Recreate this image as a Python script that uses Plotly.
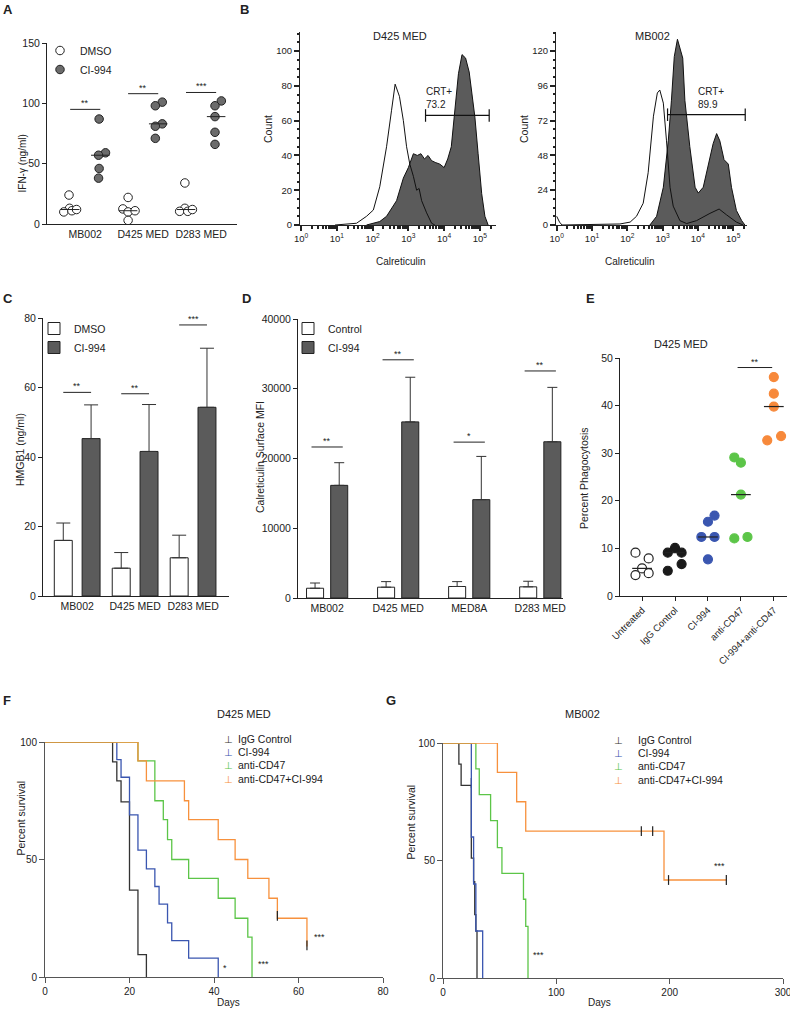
import numpy as np
import plotly.graph_objects as go

W, H = 790, 1017
FONT = "Liberation Sans, Arial, sans-serif"
INK = "#222222"
DARK = "#5b5b5b"

# ---------------- A: IFN-gamma dot plot ----------------
a_groups = ["MB002", "D425 MED", "D283 MED"]
a_dmso = [[24, 13, 10, 11, 12], [22, 12.5, 10, 11, 3], [34, 13, 10.5, 10.5, 12]]
a_ci = [[87, 59, 57, 46, 38], [101, 98, 83, 81, 71], [102, 98, 89, 76, 66]]
a_dmso_jit = [[-0.02, -0.01, -0.11, 0.03, 0.11], [0, -0.09, 0, 0.12, 0], [-0.02, -0.02, -0.11, 0.03, 0.11]]
a_ci_jit = [[-0.02, 0.09, -0.03, -0.02, -0.03], [0.07, -0.05, 0.07, -0.05, -0.05], [0.09, -0.02, -0.02, -0.02, -0.02]]
a_sig = ["**", "**", "***"]
a_sig_y = [95, 108, 109]

# ---------------- B: flow histograms (log10 calreticulin, count) ----------------
b1_ctrl_exp = [0.95, 1.55, 1.83, 2.02, 2.2, 2.39, 2.53, 2.63, 2.75, 2.86, 2.95, 3.04, 3.14, 3.23, 3.3, 3.37, 3.51, 3.65, 3.74]
b1_ctrl_cnt = [0, 1, 5, 8.6, 22, 45, 66, 81, 74, 60, 45, 35, 28, 20, 21, 14, 7, 1, 0]
b1_ci_exp = [1.83, 2.2, 2.39, 2.67, 2.86, 3.0, 3.14, 3.25, 3.35, 3.45, 3.55, 3.65, 3.75, 3.88, 4.0, 4.1, 4.2, 4.3, 4.4, 4.5, 4.6, 4.7, 4.86, 4.95, 5.05, 5.14, 5.23]
b1_ci_cnt = [0, 2, 5, 14, 27, 33, 41, 40, 41, 38, 40, 37, 36, 35, 33, 38, 45, 64, 87, 98, 96, 88, 62, 41, 18, 5, 0]
b1_gate = [3.48, 5.26, 63]
b1_label = "CRT+<br>73.2"

b2_ctrl_exp = [0.0, 0.08, 0.15, 1.79, 2.08, 2.26, 2.45, 2.59, 2.74, 2.85, 2.92, 3.02, 3.11, 3.21, 3.3, 3.49, 3.68, 3.96, 4.34, 4.6, 4.81, 5.09, 5.28]
b2_ctrl_cnt = [6, 2, 0, 0.7, 2, 6, 15, 36, 75, 91, 93, 84, 58, 26, 13, 3, 1, 3, 8, 11, 7, 2, 0]
b2_ci_exp = [2.64, 2.83, 3.02, 3.16, 3.25, 3.33, 3.42, 3.47, 3.57, 3.63, 3.77, 3.92, 4.01, 4.15, 4.29, 4.43, 4.53, 4.62, 4.74, 4.86, 4.95, 5.09, 5.24, 5.33]
b2_ci_cnt = [0, 6, 26, 58, 86, 116, 128, 123, 115, 86, 54, 26, 22, 26, 42, 56, 63, 58, 45, 42, 26, 10, 3, 0]
b2_gate = [3.14, 5.34, 76]
b2_label = "CRT+<br>89.9"

# ---------------- C: HMGB1 bars ----------------
c_groups = ["MB002", "D425 MED", "D283 MED"]
c_dmso = [16, 8, 11]
c_dmso_err = [5, 4.5, 6.5]
c_ci = [45.3, 41.6, 54.3]
c_ci_err = [9.7, 13.5, 17]
c_sig = ["**", "**", "***"]
c_sig_y = [58.6, 58.2, 78]

# ---------------- D: calreticulin MFI bars ----------------
d_groups = ["MB002", "D425 MED", "MED8A", "D283 MED"]
d_ctrl = [1400, 1550, 1650, 1600]
d_ctrl_err = [750, 800, 700, 800]
d_ci = [16150, 25250, 14100, 22400]
d_ci_err = [3250, 6400, 6200, 7800]
d_sig = ["**", "**", "*", "**"]
d_sig_y = [21650, 34150, 22350, 32550]

# ---------------- E: phagocytosis ----------------
e_groups = ["Untreated", "IgG Control", "CI-994", "anti-CD47", "CI-994+anti-CD47"]
e_vals = [[9.1, 7.9, 5.8, 4.4, 4.8], [9.1, 10.1, 9.1, 5.3, 6.7], [15.6, 16.9, 12.4, 12.4, 7.7],
          [29.1, 28.0, 21.3, 12.1, 12.4], [46, 42.5, 39.8, 32.7, 33.6]]
e_jit = [[-0.2, 0.2, 0, -0.2, 0.2], [-0.22, 0, 0.2, -0.22, 0.2], [0, 0.2, -0.2, 0.2, 0],
         [-0.2, 0, 0, -0.2, 0.2], [0, 0, 0, -0.2, 0.22]]
e_colors = ["#ffffff", "#1a1a1a", "#3a56b0", "#5cc548", "#f7893b"]
e_sig_y = 48

# ---------------- F / G: survival ----------------
km_names = ["IgG Control", "CI-994", "anti-CD47", "anti-CD47+CI-994"]
km_colors = ["#333333", "#3a56b0", "#5cc548", "#f7913d"]

f_t = [[0, 16, 17, 18, 20, 22, 24],
       [0, 17, 18, 20, 22, 24, 26, 27, 29, 30, 34, 41],
       [0, 22, 26, 28, 29, 30, 34, 41, 45, 48, 49],
       [0, 22, 24, 33, 34, 41, 45, 48, 53, 55, 62]]
f_s = [[100, 91.5, 83.5, 74.5, 37, 9.5, 0],
       [100, 92.5, 85, 69, 54, 46, 38.5, 31, 23, 15.5, 8, 0],
       [100, 92, 75, 67, 58.5, 50, 42, 33.5, 25, 17, 0],
       [100, 92, 83.5, 75, 67, 58.5, 50, 42, 33.5, 25, 13]]
f_cens_t = [[], [], [], [55, 62]]
f_cens_s = [[], [], [], [26, 13.5]]
f_stars = [("*", 42.5, 4), ("***", 51.7, 5.4), ("***", 65, 17)]

g_t = [[0, 14, 16, 25, 27, 28, 29, 30],
       [0, 25, 27, 29, 35],
       [0, 29, 32, 42, 48, 52, 71, 73, 75],
       [0, 48, 65, 73, 195, 250]]
g_s = [[100, 91, 82, 51, 41, 27, 20, 0],
       [100, 60, 40, 20, 0],
       [100, 89, 78, 67, 55.5, 44.5, 33.5, 22, 0],
       [100, 87.5, 75, 62.5, 41.7, 41.7]]
g_cens_t = [[25], [], [], [175, 185, 199, 250]]
g_cens_s = [[83], [], [], [62.5, 62.5, 41.7, 41.7]]
g_stars = [("***", 84, 10), ("***", 244, 47.5)]


def px_x(a, b):
    return [a / W, b / W]


def px_y(top, bottom):
    return [1 - bottom / H, 1 - top / H]


base = dict(showline=True, linecolor=INK, linewidth=1, ticks="outside", ticklen=4,
            tickwidth=1, tickcolor=INK, showgrid=False, zeroline=False,
            tickfont=dict(size=10, color=INK, family=FONT))

layout = {}


def add_axes(n, xdom, ydom, xr, yr, xkw=None, ykw=None):
    s = "" if n == 1 else str(n)
    xa = dict(base, domain=px_x(*xdom), range=xr, anchor="y" + s)
    ya = dict(base, domain=px_y(*ydom), range=yr, anchor="x" + s)
    xa.update(xkw or {})
    ya.update(ykw or {})
    layout["xaxis" + s] = xa
    layout["yaxis" + s] = ya


fig = go.Figure()
ann = []


def note(text, x, y, size=10, **kw):
    d = dict(text=text, x=x / W, y=1 - y / H, xref="paper", yref="paper", showarrow=False,
             font=dict(size=size, color=INK, family=FONT))
    d.update(kw)
    ann.append(d)


# ---- A ----
add_axes(1, (47, 237), (43, 224), [-0.66, 2.62], [0, 150],
         xkw=dict(tickvals=[0, 1, 2], ticktext=a_groups, ticks="", tickfont=dict(size=10.5, color=INK)),
         ykw=dict(tickvals=[0, 50, 100, 150], tickfont=dict(size=10.5, color=INK)))
side = 0.26
for label, vals, jit, off, fill in [("DMSO", a_dmso, a_dmso_jit, -side, "white"),
                                    ("CI-994", a_ci, a_ci_jit, side, "#6b6b6b")]:
    xs, ys = [], []
    for g in range(3):
        xs += [g + off + j for j in jit[g]]
        ys += vals[g]
    fig.add_trace(go.Scatter(x=xs, y=ys, mode="markers", name=label, legend="legend",
                             marker=dict(size=8.5, color=fill, line=dict(color=INK, width=1)),
                             xaxis="x", yaxis="y"))
    mx, my = [], []
    for g in range(3):
        m = float(np.median(vals[g]))
        mx += [g + off - 0.16, g + off + 0.16, None]
        my += [m, m, None]
    fig.add_trace(go.Scatter(x=mx, y=my, mode="lines", line=dict(color=INK, width=1),
                             showlegend=False, xaxis="x", yaxis="y"))
sx, sy = [], []
for g in range(3):
    sx += [g - side, g + side, None]
    sy += [a_sig_y[g], a_sig_y[g], None]
    ann.append(dict(text=a_sig[g], x=g, y=a_sig_y[g], xref="x", yref="y", showarrow=False,
                    yshift=6, font=dict(size=9, color=INK)))
fig.add_trace(go.Scatter(x=sx, y=sy, mode="lines", line=dict(color=INK, width=1),
                         showlegend=False, xaxis="x", yaxis="y"))

# ---- B ----
dec_ticks = [10 ** k for k in range(6)]
dec_text = ["10<sup>%d</sup>" % k for k in range(6)]
minor_vals = [m * 10 ** k for k in range(6) for m in range(2, 10)]
bx = dict(type="log", tickvals=dec_ticks, ticktext=dec_text, ticklen=5, tickwidth=1.5,
          tickfont=dict(size=9.5, color=INK),
          minor=dict(tickmode="array", tickvals=minor_vals, ticks="outside", ticklen=2.5, tickcolor=INK))
add_axes(2, (300, 496), (32, 225), [-0.03, 5.45], [0, 111], xkw=bx,
         ykw=dict(tickvals=[0, 20, 40, 60, 80, 100], ticklen=5, tickwidth=1.5,
                  tickfont=dict(size=9.5, color=INK),
                  minor=dict(dtick=5, ticks="outside", ticklen=2.5, tickcolor=INK)))
add_axes(3, (556, 747), (32, 225), [-0.02, 5.39], [0, 133], xkw=bx,
         ykw=dict(tickvals=[0, 24, 48, 72, 96, 120], ticklen=5, tickwidth=1.5,
                  tickfont=dict(size=9.5, color=INK),
                  minor=dict(dtick=6, ticks="outside", ticklen=2.5, tickcolor=INK)))
for n, ce, cc, oe, oc, gate, lab, lab_x, lab_y in [
        (2, b1_ci_exp, b1_ci_cnt, b1_ctrl_exp, b1_ctrl_cnt, b1_gate, b1_label, 3.45, 65),
        (3, b2_ci_exp, b2_ci_cnt, b2_ctrl_exp, b2_ctrl_cnt, b2_gate, b2_label, 3.95, 78)]:
    xa, ya = "x%d" % n, "y%d" % n
    fig.add_trace(go.Scatter(x=[10 ** e for e in ce], y=cc, mode="lines", fill="tozeroy",
                             fillcolor=DARK, line=dict(color="#111111", width=1),
                             showlegend=False, xaxis=xa, yaxis=ya))
    fig.add_trace(go.Scatter(x=[10 ** e for e in oe], y=oc, mode="lines",
                             line=dict(color="#111111", width=1),
                             showlegend=False, xaxis=xa, yaxis=ya))
    fig.add_trace(go.Scatter(x=[10 ** gate[0], 10 ** gate[1]], y=[gate[2], gate[2]],
                             mode="lines+markers", line=dict(color="#111111", width=1.2),
                             marker=dict(symbol="line-ns", size=9, line=dict(color="#111111", width=1.2)),
                             showlegend=False, xaxis=xa, yaxis=ya))
    ann.append(dict(text=lab, x=lab_x, y=lab_y, xref=xa, yref=ya, showarrow=False,
                    xanchor="left", yanchor="bottom", align="left",
                    font=dict(size=10, color=INK)))

# ---- C ----
c_off, c_w = 0.24, 0.31
add_axes(4, (43, 229), (318, 596), [-0.59, 2.62], [0, 80],
         xkw=dict(tickvals=[0, 1, 2], ticktext=c_groups, ticks="", tickfont=dict(size=10.5, color=INK)),
         ykw=dict(tickvals=[0, 20, 40, 60, 80], tickfont=dict(size=10.5, color=INK)))
for label, vals, err, off, fill in [("DMSO", c_dmso, c_dmso_err, -c_off, "white"),
                                    ("CI-994", c_ci, c_ci_err, c_off, DARK)]:
    fig.add_trace(go.Bar(x=[g + off for g in range(3)], y=vals, width=c_w, name=label,
                         marker=dict(color=fill, line=dict(color=INK, width=1)),
                         error_y=dict(type="data", array=err, arrayminus=[0] * 3, symmetric=False,
                                      color="#333333", thickness=1, width=7),
                         legend="legend2", xaxis="x4", yaxis="y4"))
sx, sy = [], []
for g in range(3):
    sx += [g - c_off, g + c_off, None]
    sy += [c_sig_y[g], c_sig_y[g], None]
    ann.append(dict(text=c_sig[g], x=g, y=c_sig_y[g], xref="x4", yref="y4", showarrow=False,
                    yshift=6, font=dict(size=9, color=INK)))
fig.add_trace(go.Scatter(x=sx, y=sy, mode="lines", line=dict(color=INK, width=1),
                         showlegend=False, xaxis="x4", yaxis="y4"))

# ---- D ----
d_off, d_w = 0.17, 0.24
add_axes(5, (298, 563), (319, 598), [-0.41, 3.32], [0, 40000],
         xkw=dict(tickvals=[0, 1, 2, 3], ticktext=d_groups, ticks="", tickfont=dict(size=10.5, color=INK)),
         ykw=dict(tickvals=[0, 10000, 20000, 30000, 40000], tickformat="d",
                  tickfont=dict(size=10.5, color=INK)))
for label, vals, err, off, fill in [("Control", d_ctrl, d_ctrl_err, -d_off, "white"),
                                    ("CI-994", d_ci, d_ci_err, d_off, DARK)]:
    fig.add_trace(go.Bar(x=[g + off for g in range(4)], y=vals, width=d_w, name=label,
                         marker=dict(color=fill, line=dict(color=INK, width=1)),
                         error_y=dict(type="data", array=err, arrayminus=[0] * 4, symmetric=False,
                                      color="#333333", thickness=1, width=5),
                         legend="legend3", xaxis="x5", yaxis="y5"))
sx, sy = [], []
for g in range(4):
    sx += [g - d_off - 0.05, g + d_off + 0.05, None]
    sy += [d_sig_y[g], d_sig_y[g], None]
    ann.append(dict(text=d_sig[g], x=g, y=d_sig_y[g], xref="x5", yref="y5", showarrow=False,
                    yshift=6, font=dict(size=9, color=INK)))
fig.add_trace(go.Scatter(x=sx, y=sy, mode="lines", line=dict(color=INK, width=1),
                         showlegend=False, xaxis="x5", yaxis="y5"))

# ---- E ----
add_axes(6, (620, 787), (358, 596), [-0.67, 4.4], [0, 50],
         xkw=dict(tickvals=list(range(5)), ticktext=e_groups, tickangle=-45,
                  tickfont=dict(size=9.5, color=INK)),
         ykw=dict(tickvals=[0, 10, 20, 30, 40, 50], tickfont=dict(size=10.5, color=INK)))
for i in range(5):
    fig.add_trace(go.Scatter(x=[i + j for j in e_jit[i]], y=e_vals[i], mode="markers",
                             marker=dict(size=9, color=e_colors[i],
                                         line=dict(color=INK if i == 0 else e_colors[i], width=1.2)),
                             showlegend=False, xaxis="x6", yaxis="y6"))
mx, my = [], []
for i in range(5):
    m = float(np.median(e_vals[i]))
    mx += [i - 0.3, i + 0.3, None]
    my += [m, m, None]
fig.add_trace(go.Scatter(x=mx, y=my, mode="lines", line=dict(color=INK, width=1.2),
                         showlegend=False, xaxis="x6", yaxis="y6"))
fig.add_trace(go.Scatter(x=[2.9, 3.95], y=[e_sig_y, e_sig_y], mode="lines",
                         line=dict(color=INK, width=1), showlegend=False, xaxis="x6", yaxis="y6"))
ann.append(dict(text="**", x=3.42, y=e_sig_y, xref="x6", yref="y6", showarrow=False, yshift=6,
                font=dict(size=9, color=INK)))

# ---- F / G ----
km_ax = dict(linecolor="#555555", tickcolor="#555555")
add_axes(7, (45, 383), (742, 977), [0, 80], [0, 100],
         xkw=dict(km_ax, tickvals=[0, 20, 40, 60, 80], ticklen=5),
         ykw=dict(km_ax, tickvals=[0, 50, 100], ticklen=5))
add_axes(8, (443, 783), (743, 978), [0, 300], [0, 100],
         xkw=dict(km_ax, tickvals=[0, 100, 200, 300], ticklen=5, ticklabeloverflow="allow"),
         ykw=dict(km_ax, tickvals=[0, 50, 100], ticklen=5))
for n, ts, ss, cts, css, stars in [(7, f_t, f_s, f_cens_t, f_cens_s, f_stars),
                                   (8, g_t, g_s, g_cens_t, g_cens_s, g_stars)]:
    xa, ya = "x%d" % n, "y%d" % n
    for k in range(4):
        fig.add_trace(go.Scatter(x=ts[k], y=ss[k], mode="lines", line_shape="hv",
                                 line=dict(color=km_colors[k], width=1.3),
                                 showlegend=False, xaxis=xa, yaxis=ya))
        if cts[k]:
            fig.add_trace(go.Scatter(x=cts[k], y=css[k], mode="markers",
                                     marker=dict(symbol="line-ns", size=7,
                                                 line=dict(color="#222222", width=1.2)),
                                     showlegend=False, xaxis=xa, yaxis=ya))
    for txt, sx_, sy_ in stars:
        ann.append(dict(text=txt, x=sx_, y=sy_, xref=xa, yref=ya, showarrow=False,
                        font=dict(size=9, color=INK)))

for sym_x, txt_x, ys in [(222, 236, [747, 760, 773, 787]), (625, 636, [748, 761, 774, 788])]:
    for k in range(4):
        note("⊥", sym_x, ys[k], size=10, font=dict(size=10, color=km_colors[k], family="DejaVu Sans"))
        note(km_names[k], txt_x, ys[k], size=10.5, xanchor="left")

# ---- titles / axis labels / panel letters ----
for letter, x, y in [("A", 1, 0), ("B", 238, 0), ("C", 1, 289), ("D", 240, 289),
                     ("E", 584, 289), ("F", 1, 691), ("G", 384, 691)]:
    note("<b>%s</b>" % letter, x, y, size=13, xanchor="left", yanchor="top")

note("D425 MED", 400, 28, size=11)
note("MB002", 672, 28, size=11)
note("Calreticulin", 400, 254, size=10)
note("Calreticulin", 656, 254, size=10)
note("D425 MED", 710, 336, size=11)
note("D425 MED", 215, 722, size=11)
note("MB002", 602, 722, size=11)
note("Days", 215, 1010, size=10)
note("Days", 613, 1010, size=10)

note("IFN-γ (ng/ml)", 14, 133, size=10, textangle=-90)
note("Count", 268, 113, size=10.5, textangle=-90)
note("Count", 524, 113, size=10.5, textangle=-90)
note("HMGB1 (ng/ml)", 12, 450, size=10.5, textangle=-90)
note("Calreticulin Surface MFI", 252, 457, size=10.5, textangle=-90)
note("Percent Phagocytosis", 592, 478, size=10.5, textangle=-90)
note("Percent survival", 12, 858, size=10.5, textangle=-90)
note("Percent survival", 410, 862, size=10.5, textangle=-90)

leg = dict(bgcolor="rgba(0,0,0,0)", font=dict(size=10.5, color=INK, family=FONT),
           xanchor="left", yanchor="top", tracegroupgap=0, itemwidth=30)
layout["legend"] = dict(leg, x=40 / W, y=1 - 36 / H)
layout["legend2"] = dict(leg, x=34 / W, y=1 - 314 / H)
layout["legend3"] = dict(leg, x=288 / W, y=1 - 314 / H)

fig.update_layout(**layout)
fig.update_layout(width=W, height=H, margin=dict(l=0, r=0, t=0, b=0, autoexpand=False),
                  paper_bgcolor="white", plot_bgcolor="white", barmode="overlay",
                  font=dict(family=FONT, color=INK), annotations=ann)
fig.write_html("out.html", config={"displayModeBar": False},
               post_script="document.body.style.margin='0';document.body.style.overflow='hidden';")
